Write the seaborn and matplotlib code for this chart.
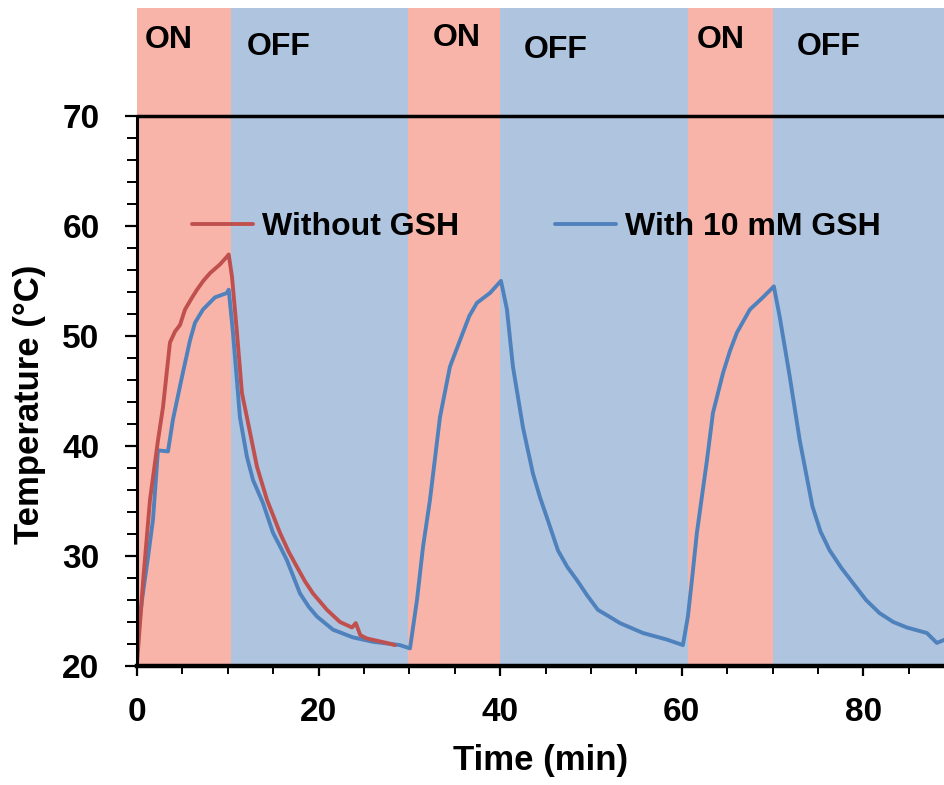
import matplotlib
matplotlib.use("Agg")
import matplotlib.pyplot as plt
import matplotlib.ticker as mticker
import seaborn as sns
import pandas as pd

# Data
red_time = [0, 0.7, 1.43, 2.31, 2.86, 3.63, 4.19, 4.74, 5.29, 6.0, 6.61, 7.3, 8.04, 9.14, 9.91, 10.1,
            10.46, 11.01, 11.56, 12.11, 12.7, 13.22, 14.32, 15.75, 16.7, 17.62, 18.5, 19.38, 20.93,
            22.36, 23.68, 24.1, 24.6, 25.33, 26.4, 27.5, 28.4]
red_temp = [20.2, 28.0, 35.1, 40.5, 43.5, 49.4, 50.4, 51.0, 52.4, 53.4, 54.2, 55.0, 55.7, 56.5, 57.2, 57.4,
            55.4, 50.3, 44.8, 42.6, 40.2, 38.1, 35.1, 32.1, 30.4, 29.0, 27.7, 26.6, 25.1,
            24.0, 23.5, 23.9, 22.8, 22.5, 22.3, 22.1, 21.9]

blue_time = [0, 0.55, 1.2, 1.76, 2.31, 3.41, 3.96, 4.96, 5.84, 6.39, 7.27, 8.59, 9.91, 10.1,
             10.57, 11.34, 12.11, 12.78, 13.88, 14.98, 15.8, 16.52, 17.95, 18.9, 19.82, 21.59, 23.79,
             25.99, 28.96, 30.07,
             30.84, 31.5, 32.27, 33.37, 34.47, 35.9, 36.6, 37.44, 38.88, 40.09,
             40.75, 41.41, 42.51, 43.61, 44.4, 45.15, 46.37, 47.4, 48.46, 49.6, 50.77, 52.0,
             53.19, 55.73, 58.37, 60.13,
             60.68, 61.2, 61.67, 62.78, 63.44, 64.54, 65.3, 66.08, 67.51, 68.94, 70.15,
             70.8, 71.9, 73.0, 74.4, 75.3, 76.3, 77.6, 78.9, 80.3, 81.8, 83.3, 84.8, 87.0, 88.1, 89.0]
blue_temp = [21.9, 26.0, 29.8, 33.3, 39.6, 39.5, 42.4, 46.3, 49.6, 51.2, 52.4, 53.5, 53.9, 54.2,
             50.3, 42.6, 39.0, 36.9, 34.8, 32.1, 30.8, 29.6, 26.6, 25.4, 24.5, 23.3, 22.6,
             22.2, 21.9, 21.6,
             26.0, 30.8, 35.1, 42.6, 47.2, 50.3, 51.8, 53.0, 53.9, 55.0,
             52.4, 47.2, 41.7, 37.5, 35.3, 33.5, 30.5, 29.0, 27.8, 26.4, 25.1, 24.5,
             23.9, 23.0, 22.4, 21.9,
             24.5, 28.4, 32.1, 38.7, 43.0, 46.6, 48.6, 50.3, 52.4, 53.5, 54.5,
             51.7, 46.3, 40.5, 34.5, 32.2, 30.5, 28.9, 27.5, 26.0, 24.8, 24.0, 23.5, 23.0, 22.1, 22.4]

on_start = [0, 29.8, 60.7]
on_end = [10.4, 40.0, 70.0]
off_end = [29.8, 60.7, 89.0]

on_label_x = [0.9, 32.6, 61.7]
on_label_y = [76.9, 77.1, 76.9]
off_label_x = [12.1, 42.6, 72.7]
off_label_y = [76.3, 76.0, 76.3]

sns.set_style("ticks")
plt.rcParams['font.family'] = ['Liberation Sans', 'DejaVu Sans']
plt.rcParams['font.weight'] = 'bold'
plt.rcParams['text.color'] = 'black'
plt.rcParams['axes.labelcolor'] = 'black'
plt.rcParams['xtick.color'] = 'black'
plt.rcParams['ytick.color'] = 'black'

fig = plt.figure(figsize=(9.45, 7.85), dpi=100)
ax = fig.add_axes([137 / 945, 1 - 666 / 785, 1 - 137 / 945, (666 - 8) / 785])

pink = '#F9B4A9'
blue_bg = '#AFC4DF'
for s, e, oe in zip(on_start, on_end, off_end):
    ax.axvspan(s, e, color=pink, lw=0, zorder=0)
    ax.axvspan(e, oe, color=blue_bg, lw=0, zorder=0)

for x, y in zip(on_label_x, on_label_y):
    ax.text(x, y, 'ON', fontsize=23, fontweight='bold', va='center', ha='left', color='black')
for x, y in zip(off_label_x, off_label_y):
    ax.text(x, y, 'OFF', fontsize=23, fontweight='bold', va='center', ha='left', color='black')

df_red = pd.DataFrame({'time': red_time, 'temp': red_temp})
df_blue = pd.DataFrame({'time': blue_time, 'temp': blue_temp})
sns.lineplot(data=df_red, x='time', y='temp', color='#C0504D', lw=2.8,
             estimator=None, sort=False, label='Without GSH', ax=ax, zorder=3)
sns.lineplot(data=df_blue, x='time', y='temp', color='#4F81BD', lw=2.8,
             estimator=None, sort=False, label='With 10 mM GSH', ax=ax, zorder=2)

ax.axhline(70, color='black', lw=2.5, zorder=4)

ax.set_xlim(0, 89.0)
ax.set_ylim(20, 79.8)
ax.yaxis.set_major_locator(mticker.FixedLocator([20, 30, 40, 50, 60, 70]))
ax.yaxis.set_minor_locator(mticker.FixedLocator(list(range(20, 71, 2))))
ax.xaxis.set_major_locator(mticker.MultipleLocator(20))
ax.xaxis.set_minor_locator(mticker.MultipleLocator(5))

ax.spines['top'].set_visible(False)
ax.spines['right'].set_visible(False)
ax.spines['left'].set_bounds(20, 70)
ax.spines['left'].set_linewidth(2.2)
ax.spines['bottom'].set_linewidth(3.2)
ax.spines['left'].set_color('black')
ax.spines['bottom'].set_color('black')
ax.spines['left'].set_zorder(5)
ax.spines['bottom'].set_zorder(5)

ax.tick_params(axis='y', which='major', direction='out', length=9, width=1.6,
               labelsize=24, pad=18)
ax.tick_params(axis='y', which='minor', direction='out', length=7, width=1.4)
ax.tick_params(axis='x', which='major', direction='out', length=7, width=1.6,
               labelsize=24, pad=15)
ax.tick_params(axis='x', which='minor', direction='out', length=6, width=1.4)
for lab in ax.get_xticklabels() + ax.get_yticklabels():
    lab.set_fontweight('bold')

ax.set_xlabel('Time (min)', fontsize=25, fontweight='bold')
ax.set_ylabel('Temperature (°C)', fontsize=25, fontweight='bold')
ax.xaxis.set_label_coords(0.5, -0.118)
ax.yaxis.set_label_coords(-0.113, 0.397)

leg = ax.legend(loc='center left', bbox_to_anchor=(0.068, 0.667), ncol=2, frameon=False,
                handlelength=1.9, handletextpad=0.3, columnspacing=3.0,
                borderpad=0, borderaxespad=0, prop={'weight': 'bold', 'size': 23})
for line in leg.get_lines():
    line.set_linewidth(2.8)
for t in leg.get_texts():
    t.set_color('black')

fig.savefig('out.png', dpi=100)
